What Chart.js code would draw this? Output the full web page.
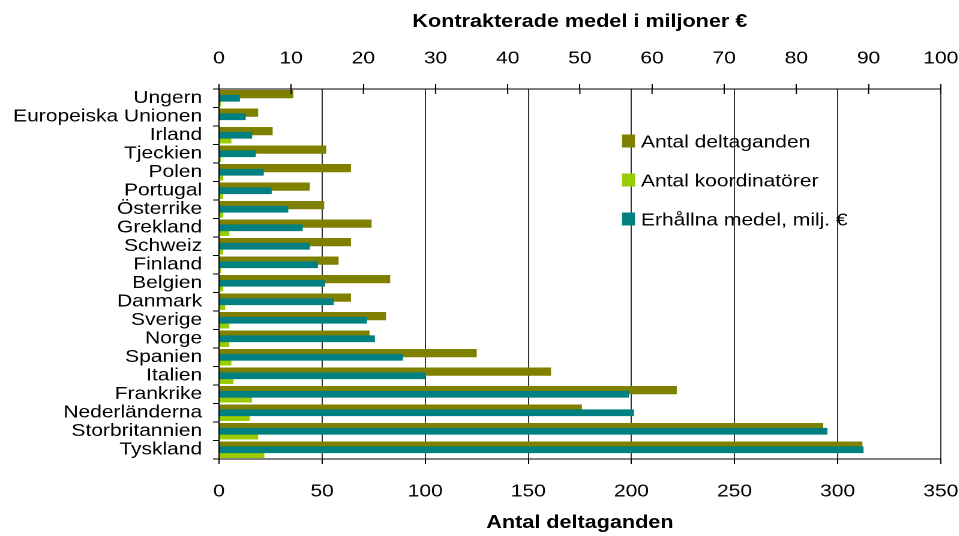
<!DOCTYPE html>
<html>
<head>
<meta charset="utf-8">
<script src="https://cdn.jsdelivr.net/npm/chart.js@4.4.1/dist/chart.umd.min.js"></script>
<style>
html, body { margin: 0; padding: 0; background: #ffffff; overflow: hidden; }
#wrap { position: absolute; left: 0; top: 0; width: 799.1667px; height: 536px; transform: scaleX(1.2); transform-origin: 0 0; }
</style>
</head>
<body>
<div id="wrap"><canvas id="c"></canvas></div>
<script>
// ---- data ----
const countries = ['Ungern', 'Europeiska Unionen', 'Irland', 'Tjeckien', 'Polen', 'Portugal', 'Österrike', 'Grekland', 'Schweiz', 'Finland', 'Belgien', 'Danmark', 'Sverige', 'Norge', 'Spanien', 'Italien', 'Frankrike', 'Nederländerna', 'Storbritannien', 'Tyskland'];
const deltaganden = [36, 19, 26, 52, 64, 44, 51, 74, 64, 58, 83, 64, 81, 73, 125, 161, 222, 176, 293, 312];
const koordinatorer = [1, 0, 6, 1, 2, 2, 2, 5, 2, 1, 2, 3, 5, 5, 6, 7, 16, 15, 19, 22];
const medel = [2.9, 3.7, 4.6, 5.1, 6.2, 7.3, 9.6, 11.6, 12.6, 13.7, 14.7, 15.9, 20.5, 21.6, 25.5, 28.6, 56.8, 57.5, 84.3, 89.3];
const bottomTickValues = [0, 50, 100, 150, 200, 250, 300, 350];
const topTickValues = [0, 10, 20, 30, 40, 50, 60, 70, 80, 90, 100];
const seriesLabels = ['Antal deltaganden', 'Antal koordinatörer', 'Erhållna medel, milj. €'];
const bottomTitle = 'Antal deltaganden';
const topTitle = 'Kontrakterade medel i miljoner €';

// ---- layout / style ----
const S = 1.2; // horizontal stretch applied to the canvas wrapper
const RIGHT_GAP = (959 - 940.7) / S;
const FAM = '"Liberation Sans", Arial, Helvetica, sans-serif';
Chart.defaults.color = '#000';
Chart.defaults.font.family = FAM;

const innerTicks = {
  id: 'innerTicks',
  afterDraw(chart) {
    const ctx = chart.ctx, a = chart.chartArea, sc = chart.scales.x2;
    ctx.save();
    ctx.strokeStyle = '#000';
    ctx.lineWidth = 1;
    sc.ticks.forEach(t => {
      const px = sc.getPixelForValue(t.value);
      ctx.beginPath();
      ctx.moveTo(px, a.top);
      ctx.lineTo(px, a.top + 5);
      ctx.stroke();
    });
    ctx.restore();
  }
};

const insideLegend = {
  id: 'insideLegend',
  afterDraw(chart) {
    const ctx = chart.ctx;
    ctx.save();
    ctx.font = '17.5px ' + FAM;
    ctx.textAlign = 'left';
    ctx.textBaseline = 'alphabetic';
    chart.data.datasets.forEach((ds, i) => {
      const base = 147.5 + i * 39;
      ctx.fillStyle = ds.backgroundColor;
      ctx.fillRect(622 / S, base - 13, 13 / S, 13);
      ctx.fillStyle = '#000';
      ctx.fillText(ds.label, 641 / S, base);
    });
    ctx.restore();
  }
};

new Chart(document.getElementById('c'), {
  type: 'bar',
  data: {
    labels: countries,
    datasets: [
      { label: seriesLabels[0], data: deltaganden, backgroundColor: '#808000', xAxisID: 'x', categoryPercentage: 0.89, barPercentage: 1.0 },
      { label: seriesLabels[1], data: koordinatorer, backgroundColor: '#99CC00', xAxisID: 'x', categoryPercentage: 0.89, barPercentage: 1.0 },
      { label: seriesLabels[2], data: medel, backgroundColor: '#008080', xAxisID: 'x2', grouped: false, barPercentage: 0.46, order: -1 }
    ]
  },
  options: {
    indexAxis: 'y',
    responsive: true,
    maintainAspectRatio: false,
    animation: false,
    devicePixelRatio: 2,
    layout: { padding: 0 },
    plugins: { legend: { display: false }, tooltip: { enabled: false } },
    scales: {
      y: {
        type: 'category',
        position: 'left',
        offset: true,
        grid: { offset: true, drawOnChartArea: false, tickLength: 5, color: '#000', lineWidth: 1 },
        border: { color: '#000', width: 1 },
        ticks: { autoSkip: false, padding: 9, font: { size: 17.5 }, color: '#000' },
        afterFit: s => { s.width = 219 / S; }
      },
      x: {
        type: 'linear',
        position: 'bottom',
        min: 0, max: 350,
        afterBuildTicks: s => { s.ticks = bottomTickValues.map(v => ({ value: v })); },
        grid: { color: '#333', lineWidth: 1, tickLength: 5, tickColor: '#000' },
        border: { color: '#000', width: 1 },
        ticks: { padding: 17, font: { size: 17.5 }, color: '#000', maxRotation: 0 },
        title: { display: true, text: bottomTitle, font: { size: 18, weight: 'bold' }, color: '#000', padding: { top: 0, bottom: 2 } },
        afterFit: s => { s.height = 77; s.paddingRight = RIGHT_GAP; s.paddingLeft = 0; }
      },
      x2: {
        type: 'linear',
        position: 'top',
        min: 0, max: 100,
        afterBuildTicks: s => { s.ticks = topTickValues.map(v => ({ value: v })); },
        grid: { drawOnChartArea: false, tickLength: 5, color: '#000', lineWidth: 1 },
        border: { color: '#000', width: 1 },
        ticks: { padding: 15, font: { size: 17.5 }, color: '#000', maxRotation: 0 },
        title: { display: true, text: topTitle, font: { size: 18, weight: 'bold' }, color: '#000', padding: { top: 11, bottom: 0 } },
        afterFit: s => { s.height = 89; s.paddingRight = RIGHT_GAP; s.paddingLeft = 0; }
      }
    }
  },
  plugins: [innerTicks, insideLegend]
});
</script>
</body>
</html>
